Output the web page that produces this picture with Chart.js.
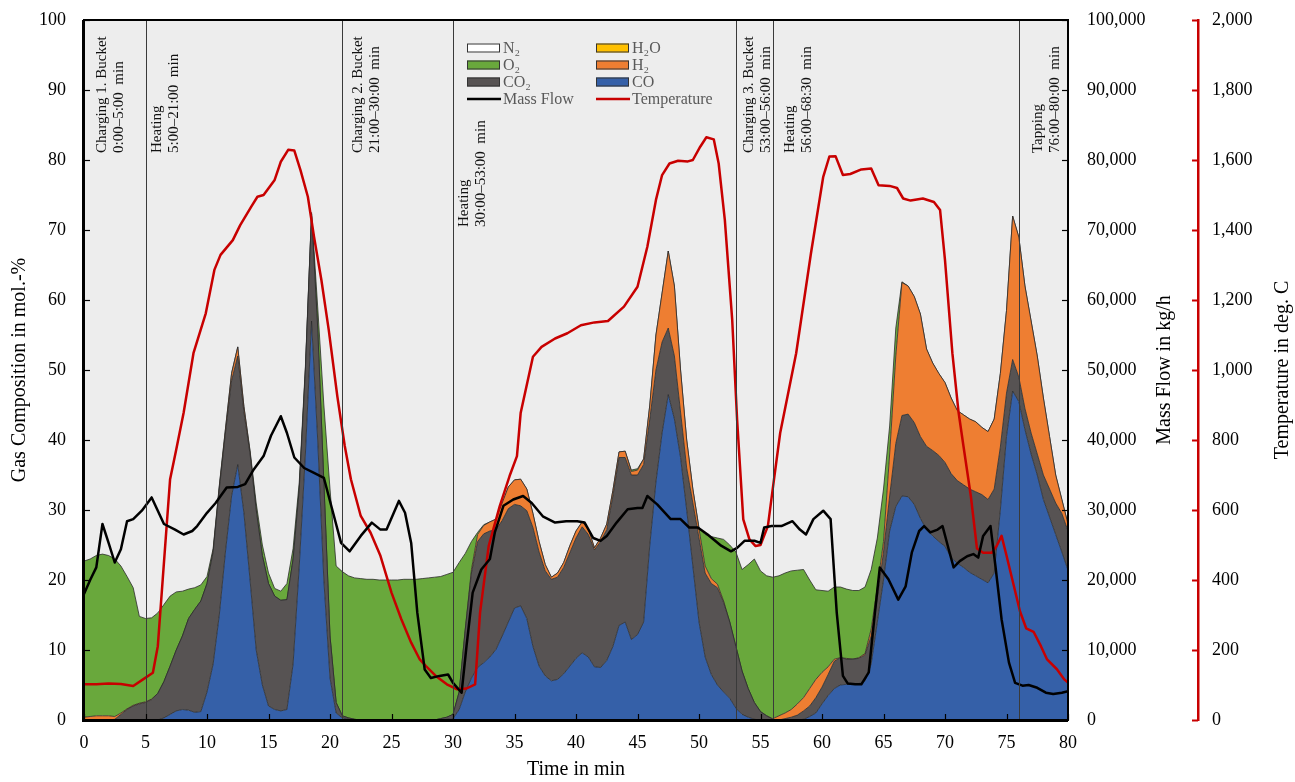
<!DOCTYPE html>
<html>
<head>
<meta charset="utf-8">
<script src="https://cdn.jsdelivr.net/npm/chart.js@4.4.1/dist/chart.umd.min.js"></script>
<style>
  html, body { margin: 0; padding: 0; background: #fff; }
  canvas { display: block; }
</style>
</head>
<body>
<canvas id="gasChart" width="1295" height="782"></canvas>
<script>
// Gas analysis, sampled every half minute (mol.-%)
const gasTimes = [
  0, 0.5, 1, 1.5, 2, 2.5, 3, 3.5, 4, 4.5,
  5, 5.5, 6, 6.5, 7, 7.5, 8, 8.5, 9, 9.5,
  10, 10.5, 11, 11.5, 12, 12.5, 13, 13.5, 14, 14.5,
  15, 15.5, 16, 16.5, 17, 17.5, 18, 18.5, 19, 19.5,
  20, 20.5, 21, 21.5, 22, 22.5, 23, 23.5, 24, 24.5,
  25, 25.5, 26, 26.5, 27, 27.5, 28, 28.5, 29, 29.5,
  30, 30.5, 31, 31.5, 32, 32.5, 33, 33.5, 34, 34.5,
  35, 35.5, 36, 36.5, 37, 37.5, 38, 38.5, 39, 39.5,
  40, 40.5, 41, 41.5, 42, 42.5, 43, 43.5, 44, 44.5,
  45, 45.5, 46, 46.5, 47, 47.5, 48, 48.5, 49, 49.5,
  50, 50.5, 51, 51.5, 52, 52.5, 53, 53.5, 54, 54.5,
  55, 55.5, 56, 56.5, 57, 57.5, 58, 58.5, 59, 59.5,
  60, 60.5, 61, 61.5, 62, 62.5, 63, 63.5, 64, 64.5,
  65, 65.5, 66, 66.5, 67, 67.5, 68, 68.5, 69, 69.5,
  70, 70.5, 71, 71.5, 72, 72.5, 73, 73.5, 74, 74.5,
  75, 75.5, 76, 76.5, 77, 77.5, 78, 78.5, 79, 79.5,
  80
];

const co = [
  0, 0, 0, 0, 0, 0, 0, 0, 0, 0,
  0, 0, 0, 0.3, 0.8, 1.3, 1.5, 1.4, 1.1, 1.2,
  4, 8, 15, 24, 32, 36.5, 29.6, 20, 10, 5,
  2, 1.5, 1.3, 1.5, 8, 22, 38, 57, 40, 20,
  6, 1, 0.3, 0.1, 0, 0, 0, 0, 0, 0,
  0, 0, 0, 0, 0, 0, 0, 0, 0, 0.1,
  0.2, 1.5, 4, 6, 7.5, 8.2, 9, 10.1, 12, 14,
  16, 16.3, 14.5, 10.5, 7.7, 6.3, 5.6, 5.8, 6.6, 7.7,
  8.8, 9.6, 9, 7.6, 7.5, 8.5, 10.5, 13.5, 14, 11.5,
  12.2, 14, 25, 34, 41, 46.5, 43, 37.5, 30, 22,
  14, 9, 6.5, 5, 4, 3.1, 1.7, 0.8, 0.4, 0.1,
  0, 0, 0, 0, 0, 0, 0, 0.1, 0.5, 1,
  2.3, 3.5, 4.5, 5, 5.1, 5.1, 5.2, 5.6, 8, 14,
  20, 27, 30.5, 32, 31.9, 30.8, 28.8, 27.2, 26.3, 25.5,
  24.8, 23.2, 22.4, 21.8, 21.1, 20.6, 20.1, 19.6, 21, 30,
  40.5, 47, 45.5, 41.5, 38, 35, 31.5, 29, 26.5, 24,
  21.4
];

const co2 = [
  0, 0, 0, 0, 0, 0.1, 0.8, 1.5, 2, 2.3,
  2.5, 2.9, 3.8, 5.2, 6.9, 8.7, 10.5, 13.1, 14.7, 15.8,
  15.5, 16, 18, 17, 16.5, 15.5, 14.4, 18, 20, 18.5,
  17.5, 16.2, 15.8, 15.7, 15, 11, 12, 15.3, 16, 14,
  6, 1.5, 0.3, 0.2, 0.1, 0, 0, 0, 0, 0,
  0, 0, 0, 0, 0, 0, 0, 0, 0.2, 0.3,
  0.6, 2.5, 9, 15, 18, 18.4, 18, 17.1, 16.5, 16.2,
  14.8, 14.3, 15.4, 17, 16.3, 15, 14.5, 14.6, 15.2, 16.2,
  17.2, 18, 17.5, 16.7, 18, 18.7, 21.5, 24, 23.5, 23.5,
  22.8, 22.5, 18, 16, 13, 9.5, 9, 6.5, 6, 9,
  12, 12, 13, 13.9, 12.8, 10.9, 8.8, 6.2, 4.1, 2.4,
  1.2, 0.6, 0.1, 0, 0.2, 0.4, 0.7, 1.2, 1.5, 2.2,
  2.4, 3, 3.9, 3.9, 3.6, 3.6, 3.6, 3.7, 4, 3.5,
  4, 5, 9, 11.5, 11.8, 11.7, 11.7, 11.9, 12.2, 12.3,
  12, 12, 11.8, 11.8, 11.9, 12, 12.1, 11.9, 12, 9,
  6.2, 4.5, 3.5, 3, 3, 3, 3.5, 4, 4.5, 5.5,
  5.6
];

const h2 = [
  0.4, 0.5, 0.6, 0.6, 0.6, 0.4, 0.2, 0.1, 0.1, 0.1,
  0.1, 0.1, 0, 0, 0, 0, 0, 0, 0, 0,
  0, 0.2, 0.3, 0.5, 1, 1.3, 0.8, 0.3, 0.1, 0,
  0, 0, 0, 0, 0, 0, 0, 0, 0, 0,
  0, 0, 0, 0, 0, 0, 0, 0, 0, 0,
  0, 0, 0, 0, 0, 0, 0, 0, 0, 0,
  0, 0, 0, 0.5, 1, 1.2, 1.3, 1.5, 2.5, 3.1,
  3.5, 3.8, 3.1, 2, 1.5, 0.9, 0.3, 0.6, 0.7, 1,
  1, 0.7, 0.8, 0.3, 0.5, 0.8, 0.8, 0.8, 0.9, 0.5,
  0.7, 0.8, 2, 5, 7, 11, 10, 6, 4, 2,
  1.3, 1, 0.7, 0.5, 0.2, 0, 0, 0, 0, 0,
  0, 0, 0.1, 0.6, 0.8, 1.1, 1.6, 1.9, 2.5, 2.6,
  2.1, 1.1, 0.3, 0, 0.1, 0, 0.1, 0.2, 1, 1.5,
  1.5, 6, 12.5, 19, 18.3, 18, 17.5, 13.9, 12.5, 11.7,
  11.4, 10.8, 10, 10, 10, 10, 9.6, 9.7, 10, 10.5,
  11.8, 20.5, 20, 17.5, 16, 14, 11, 7.5, 4, 2,
  1
];

const h2o = [
  0, 0, 0, 0, 0, 0, 0, 0, 0, 0,
  0, 0, 0, 0, 0, 0, 0, 0, 0, 0,
  0, 0, 0, 0, 0, 0, 0, 0, 0, 0,
  0, 0, 0, 0, 0, 0, 0, 0, 0, 0,
  0, 0, 0, 0, 0, 0, 0, 0, 0, 0,
  0, 0, 0, 0, 0, 0, 0, 0, 0, 0,
  0, 0, 0, 0, 0, 0, 0, 0, 0, 0,
  0, 0, 0, 0, 0, 0, 0, 0, 0, 0,
  0, 0, 0, 0, 0, 0, 0, 0, 0, 0,
  0, 0, 0, 0, 0, 0, 0, 0, 0, 0,
  0, 0, 0, 0, 0, 0, 0, 0, 0, 0,
  0, 0, 0, 0, 0, 0, 0, 0, 0, 0,
  0, 0, 0, 0, 0, 0, 0, 0, 0, 0,
  0, 0, 0, 0, 0, 0, 0, 0, 0, 0,
  0, 0, 0, 0, 0, 0, 0, 0, 0, 0,
  0, 0, 0, 0, 0, 0, 0, 0, 0, 0,
  0
];

const o2 = [
  22.3, 22.5, 22.9, 23.1, 22.9, 22.5, 21, 18.9, 16.8, 12.4,
  11.9, 11.6, 11.5, 11, 10, 8.3, 6.4, 4.2, 3.1, 2.3,
  1, 0.3, 0.2, 0.1, 0.1, 0, 0, 0.2, 0.9, 1.5,
  1.5, 1.1, 1.3, 2.3, 1.5, 1, 0.5, 0.2, 3, 11,
  21, 19.5, 20.6, 20.3, 20.2, 20.2, 20.1, 20.1, 20, 20,
  20, 20, 20.1, 20.1, 20.1, 20.2, 20.3, 20.4, 20.3, 20.4,
  20.3, 18.5, 10.8, 4, 0.3, 0.1, 0, 0, 0, 0,
  0, 0, 0, 0, 0, 0, 0, 0, 0, 0,
  0, 0, 0, 0, 0, 0, 0, 0, 0, 0.2,
  0.2, 0, 0, 0, 0, 0, 0, 0, 0, 0,
  0.2, 4.5, 6, 6.6, 8.8, 11, 13.5, 14.5, 17.7, 20.5,
  20.1, 20, 20.2, 20, 20, 19.8, 19.1, 18.3, 15.5, 12.8,
  11.7, 10.8, 10.3, 10.1, 9.9, 9.8, 9.6, 9.5, 8.5, 7,
  7.5, 4, 4, 0.1, 0, 0, 0, 0, 0, 0,
  0, 0, 0, 0, 0, 0, 0, 0, 0, 0,
  0, 0, 0, 0, 0, 0, 0, 0, 0, 0,
  0
];

// N2 is the balance of the analysis
const n2 = gasTimes.map((t, i) =>
  +(100 - co[i] - co2[i] - h2[i] - h2o[i] - o2[i]).toFixed(2));

// Off-gas mass flow (kg/h)
const flowTimes = [
  0, 0.5, 1, 1.5, 2, 2.5, 3, 3.5, 4, 4.7,
  5.5, 6.5, 7.4, 8.1, 8.8, 9.2, 10, 10.7, 11.6, 12.5,
  13.1, 13.8, 14.6, 15.2, 16, 16.5, 17.1, 17.9, 18.7, 19.5,
  20.1, 20.9, 21.6, 22.5, 23.4, 24.1, 24.6, 25.6, 26.1, 26.6,
  27.1, 27.7, 28.2, 28.9, 29.6, 30, 30.7, 31.1, 31.6, 32.3,
  33, 33.4, 34.1, 34.9, 35.7, 36.4, 37.3, 38.3, 39.2, 40.1,
  40.7, 41.4, 42, 42.5, 43.3, 44.2, 45, 45.4, 45.8, 46.6,
  47.7, 48.5, 49.2, 49.9, 50.7, 51.8, 52.6, 53.1, 53.7, 54.5,
  55, 55.3, 55.9, 56.7, 57.6, 58.2, 58.7, 59.3, 60.1, 60.7,
  61.2, 61.7, 62.1, 62.7, 63.2, 63.8, 64.3, 64.7, 65.4, 66.2,
  66.8, 67.3, 67.9, 68.3, 68.8, 69.4, 69.8, 70.3, 70.7, 71.2,
  71.8, 72.3, 72.7, 73.1, 73.7, 74.1, 74.6, 75.2, 75.7, 76.3,
  76.8, 77.5, 78.2, 78.8, 79.5, 80
];
const massFlow = [
  18000, 20000, 21800, 28000, 25300, 22500, 24400, 28400, 28700, 29900,
  31800, 28000, 27200, 26500, 27000, 27700, 29600, 31000, 33200, 33300,
  33700, 35800, 37700, 40600, 43400, 41000, 37500, 36000, 35300, 34600,
  30600, 25300, 24100, 26300, 28200, 27200, 27200, 31300, 29600, 25300,
  15300, 7200, 6000, 6300, 6500, 5300, 3900, 10600, 18200, 21500,
  23000, 26800, 30600, 31500, 32000, 31000, 29100, 28200, 28400, 28400,
  28200, 26000, 25600, 26300, 28200, 30100, 30300, 30300, 32000, 30800,
  28700, 28700, 27500, 27500, 26500, 24900, 24100, 24600, 25600, 25600,
  25300, 27500, 27700, 27700, 28400, 27200, 26500, 28700, 29900, 28700,
  15300, 6300, 5200, 5100, 5100, 6800, 15300, 21800, 20100, 17200,
  19100, 23900, 27000, 27700, 26800, 27200, 27700, 24400, 21800, 22700,
  23400, 23700, 23200, 26300, 27700, 22000, 14400, 8200, 5300, 4900,
  5000, 4600, 3900, 3700, 3900, 4100
];

// Off-gas temperature (deg. C)
const tempTimes = [
  0, 1, 2, 3, 4, 4.8, 5.6, 6, 6.4, 7,
  7.5, 8.1, 8.9, 9.9, 10.6, 11.1, 12.1, 12.7, 13.6, 14.1,
  14.6, 15.5, 16, 16.6, 17.1, 17.6, 18.2, 18.7, 19.3, 19.9,
  20.6, 21.2, 21.7, 22.5, 23.3, 24.1, 25, 25.8, 26.6, 27.3,
  27.8, 28.6, 29.5, 30.3, 31.1, 31.8, 32.2, 32.9, 33.8, 34.6,
  35.2, 35.5, 36.5, 37.2, 38.3, 39.3, 40.4, 41.5, 42.6, 43.9,
  45, 45.8, 46.5, 47, 47.6, 48.3, 49.1, 49.5, 50.1, 50.6,
  51.2, 51.6, 52.1, 52.7, 53.1, 53.6, 54.1, 54.6, 55, 55.6,
  56.1, 56.6, 57.9, 59.1, 60.1, 60.6, 61.1, 61.7, 62.3, 63.2,
  64, 64.6, 65.5, 66.1, 66.6, 67.2, 68.2, 69.1, 69.6, 70,
  70.6, 71.1, 71.5, 72.1, 72.6, 73.1, 73.8, 74.2, 74.6, 75,
  75.6, 76.1, 76.6, 77.2, 77.8, 78.3, 79.1, 79.7, 80
];
const temperature = [
  102, 102, 104, 103, 97, 116, 135, 211, 402, 688,
  773, 878, 1048, 1162, 1286, 1329, 1371, 1414, 1467, 1495,
  1500, 1543, 1595, 1629, 1627, 1571, 1495, 1381, 1257, 1114,
  924, 783, 688, 583, 535, 469, 364, 288, 221, 173,
  154, 126, 102, 88, 90, 102, 307, 497, 611, 697,
  754, 877, 1038, 1066, 1090, 1105, 1128, 1136, 1140, 1181,
  1238, 1352, 1486, 1557, 1590, 1598, 1596, 1600, 1638, 1665,
  1659, 1590, 1429, 1143, 857, 573, 516, 497, 500, 554,
  688, 820, 1048, 1333, 1552, 1610, 1611, 1557, 1560, 1573,
  1576, 1528, 1526, 1520, 1490, 1484, 1490, 1480, 1457, 1314,
  1048, 880, 783, 640, 490, 478, 478, 497, 526, 470,
  383, 310, 262, 252, 211, 173, 145, 116, 107
];

// Process phases
const phaseStarts = [0, 5, 21, 30, 53, 56, 76];
const phaseNames = ['Charging 1. Bucket', 'Heating', 'Charging 2. Bucket', 'Heating',
  'Charging 3. Bucket', 'Heating', 'Tapping'];
const phaseSpans = ['0:00\u20135:00  min', '5:00\u201321:00  min', '21:00\u201330:00  min',
  '30:00\u201353:00  min', '53:00\u201356:00  min', '56:00\u201368:30  min', '76:00\u201380:00  min'];

const SERIF = '"Liberation Serif", "Times New Roman", serif';
const colors = {
  co: '#3560a8', co2: '#575353', h2: '#ee7e32', h2o: '#ffc000',
  o2: '#69a83c', n2: '#ededed', flow: '#000000', temp: '#c80000'
};

const toPoints = (times, values) => times.map((t, i) => ({ x: t, y: values[i] }));

function gasDataset(label, values, color, fill, border = 0.8) {
  return {
    label,
    data: toPoints(gasTimes, values),
    yAxisID: 'y',
    backgroundColor: color,
    borderColor: '#2a2a2a',
    borderWidth: border,
    fill,
    pointRadius: 0,
    tension: 0
  };
}

// fixed axis widths; the tick padding must not push the plot down
function fixWidth(width) {
  return (scale) => {
    scale.width = width;
    scale.paddingTop = 0;
    scale.paddingBottom = 0;
  };
}

// Draws the frame, inside ticks, phase markers, legend and right axis titles
const decorations = {
  id: 'decorations',
  afterDatasetsDraw(chart) {
    const { ctx, chartArea: area, scales: { x } } = chart;
    const labelShift = [18, 12, 16, 11, 13, 17, 19];
    const labelBottom = [133, 133, 133, 207, 133, 133, 133];
    ctx.save();
    ctx.strokeStyle = '#3a3a3a';
    ctx.lineWidth = 1;
    phaseStarts.forEach((t) => {
      if (t === 0) return;
      const px = Math.round(x.getPixelForValue(t)) + 0.5;
      ctx.beginPath();
      ctx.moveTo(px, area.top);
      ctx.lineTo(px, area.bottom);
      ctx.stroke();
    });
    ctx.font = '15px ' + SERIF;
    ctx.fillStyle = '#111';
    ctx.textAlign = 'left';
    ctx.textBaseline = 'middle';
    phaseStarts.forEach((t, i) => {
      const px = x.getPixelForValue(t);
      [phaseNames[i], phaseSpans[i]].forEach((txt, k) => {
        ctx.save();
        ctx.translate(px + labelShift[i] + k * 17, area.top + labelBottom[i]);
        ctx.rotate(-Math.PI / 2);
        ctx.fillText(txt, 0, 0);
        ctx.restore();
      });
    });
    ctx.restore();
  },
  afterDraw(chart) {
    const { ctx, chartArea: area, scales } = chart;
    ctx.save();

    // frame
    ctx.strokeStyle = '#000';
    ctx.lineWidth = 2;
    ctx.strokeRect(area.left, area.top, area.right - area.left, area.bottom - area.top);
    ctx.lineWidth = 3;
    ctx.beginPath();
    ctx.moveTo(area.left - 0.5, area.top);
    ctx.lineTo(area.left - 0.5, area.bottom + 0.5);
    ctx.lineTo(area.right, area.bottom + 0.5);
    ctx.stroke();

    // inside ticks
    ctx.lineWidth = 1.2;
    scales.y.ticks.forEach((tk) => {
      const py = Math.round(scales.y.getPixelForValue(tk.value)) + 0.5;
      ctx.beginPath(); ctx.moveTo(area.left, py); ctx.lineTo(area.left + 6, py); ctx.stroke();
    });
    scales.yMass.ticks.forEach((tk) => {
      const py = Math.round(scales.yMass.getPixelForValue(tk.value)) + 0.5;
      ctx.beginPath(); ctx.moveTo(area.right, py); ctx.lineTo(area.right - 6, py); ctx.stroke();
    });
    scales.x.ticks.forEach((tk) => {
      const px = Math.round(scales.x.getPixelForValue(tk.value)) + 0.5;
      ctx.beginPath(); ctx.moveTo(px, area.bottom); ctx.lineTo(px, area.bottom - 6); ctx.stroke();
    });
    ctx.strokeStyle = colors.temp;
    ctx.lineWidth = 2;
    const tx = scales.yTemp.left;
    scales.yTemp.ticks.forEach((tk) => {
      const py = Math.round(scales.yTemp.getPixelForValue(tk.value)) + 0.5;
      ctx.beginPath(); ctx.moveTo(tx, py); ctx.lineTo(tx - 6, py); ctx.stroke();
    });

    // right axis titles (read bottom to top)
    ctx.fillStyle = '#000';
    ctx.font = '20px ' + SERIF;
    ctx.textAlign = 'center';
    ctx.textBaseline = 'middle';
    const midY = (area.top + area.bottom) / 2;
    [['Mass Flow in kg/h', scales.yMass.left + 97], ['Temperature in deg. C', scales.yTemp.left + 85]]
      .forEach(([txt, px]) => {
        ctx.save();
        ctx.translate(px, midY);
        ctx.rotate(-Math.PI / 2);
        ctx.fillText(txt, 0, 0);
        ctx.restore();
      });

    // legend, two columns
    const legendItems = [
      ['N\u2082', '#ffffff', 'box'], ['H\u2082O', colors.h2o, 'box'],
      ['O\u2082', colors.o2, 'box'], ['H\u2082', colors.h2, 'box'],
      ['CO\u2082', colors.co2, 'box'], ['CO', colors.co, 'box'],
      ['Mass Flow', colors.flow, 'line'], ['Temperature', colors.temp, 'line']
    ];
    ctx.font = '16px ' + SERIF;
    ctx.textAlign = 'left';
    legendItems.forEach(([txt, color, kind], i) => {
      const col = i % 2;
      const row = Math.floor(i / 2);
      const sx = area.left + 383 + col * 129;
      const sy = area.top + 28 + row * 17;
      if (kind === 'box') {
        ctx.fillStyle = color;
        ctx.fillRect(sx, sy - 4.5, 33, 9);
        ctx.strokeStyle = '#333';
        ctx.lineWidth = 1;
        ctx.strokeRect(sx + 0.5, sy - 4, 32, 8);
      } else {
        ctx.strokeStyle = color;
        ctx.lineWidth = 2.5;
        ctx.beginPath(); ctx.moveTo(sx, sy); ctx.lineTo(sx + 34, sy); ctx.stroke();
      }
      ctx.fillStyle = '#595959';
      ctx.fillText(txt, sx + 36, sy + 1);
    });
    ctx.restore();
  }
};

const tickFont = { family: SERIF, size: 18 };
const titleFont = { family: SERIF, size: 20 };

new Chart(document.getElementById('gasChart'), {
  type: 'line',
  data: {
    datasets: [
      {
        label: 'Mass Flow',
        data: toPoints(flowTimes, massFlow),
        yAxisID: 'yMass',
        borderColor: colors.flow,
        borderWidth: 2.5,
        borderJoinStyle: 'round',
        pointRadius: 0,
        fill: false,
        tension: 0
      },
      {
        label: 'Temperature',
        data: toPoints(tempTimes, temperature),
        yAxisID: 'yTemp',
        borderColor: colors.temp,
        borderWidth: 2.5,
        borderJoinStyle: 'round',
        pointRadius: 0,
        fill: false,
        tension: 0
      },
      gasDataset('CO', co, colors.co, 'origin'),
      gasDataset('CO\u2082', co2, colors.co2, '-1'),
      gasDataset('H\u2082', h2, colors.h2, '-1'),
      gasDataset('H\u2082O', h2o, colors.h2o, '-1', 0),
      gasDataset('O\u2082', o2, colors.o2, '-1'),
      gasDataset('N\u2082', n2, colors.n2, '-1', 0)
    ]
  },
  options: {
    responsive: false,
    animation: false,
    events: [],
    layout: { padding: { top: 20, left: 0, right: 0, bottom: 0 } },
    plugins: {
      legend: { display: false },
      tooltip: { enabled: false }
    },
    scales: {
      x: {
        type: 'linear',
        min: 0,
        max: 80,
        grid: { display: false, drawTicks: false },
        border: { display: false },
        ticks: { stepSize: 5, autoSkip: false, maxRotation: 0, padding: 12, color: '#000', font: tickFont },
        title: { display: true, text: 'Time in min', color: '#000', font: titleFont, padding: { top: 0, bottom: 0 } },
        afterFit(scale) { scale.height = 62; }
      },
      y: {
        position: 'left',
        stacked: true,
        min: 0,
        max: 100,
        grid: { display: false, drawTicks: false },
        border: { display: false },
        ticks: { stepSize: 10, padding: 18, color: '#000', font: tickFont },
        title: { display: true, text: 'Gas Composition in mol.-%', color: '#000', font: titleFont, padding: { top: 8, bottom: 0 } },
        afterFit: fixWidth(84)
      },
      yMass: {
        position: 'right',
        weight: 0,
        min: 0,
        max: 100000,
        grid: { display: false, drawTicks: false },
        border: { display: false },
        ticks: { stepSize: 10000, padding: 19, color: '#000', font: tickFont },
        afterFit: fixWidth(130)
      },
      yTemp: {
        position: 'right',
        weight: 1,
        min: 0,
        max: 2000,
        grid: { display: false, drawTicks: false },
        border: { display: true, color: colors.temp, width: 2.5 },
        ticks: { stepSize: 200, padding: 14, color: '#000', font: tickFont },
        afterFit: fixWidth(97)
      }
    }
  },
  plugins: [decorations]
});
</script>
</body>
</html>
